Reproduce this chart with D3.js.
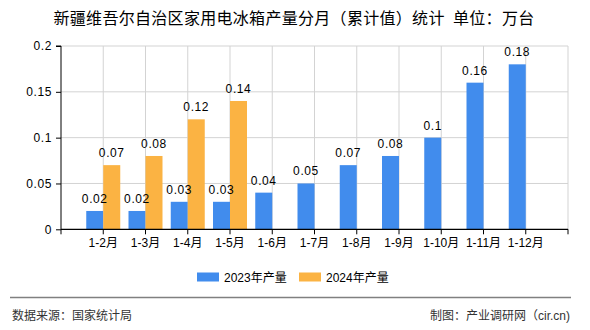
<!DOCTYPE html>
<html><head><meta charset="utf-8">
<script src="https://cdn.jsdelivr.net/npm/d3@7"></script>
<style>
body{margin:0;background:#fff;}
svg{display:block;font-family:"Liberation Sans",Arial,"Noto Sans CJK SC",sans-serif;}
</style></head>
<body><svg id="c" width="590" height="330"></svg>
<script>
const categories = ["1-2月","1-3月","1-4月","1-5月","1-6月","1-7月","1-8月","1-9月","1-10月","1-11月","1-12月"];
const values2023 = [0.02,0.02,0.03,0.03,0.04,0.05,0.07,0.08,0.1,0.16,0.18];
const values2024 = [0.07,0.08,0.12,0.14,null,null,null,null,null,null,null];
const yTicks = [0,0.05,0.1,0.15,0.2];
const seriesNames = ["2023年产量","2024年产量"];
const colors = ["#418ced","#fbb343"];

const svg = d3.select("#c");
const L=61, R=568, T=46, B=229.3;
const x = d3.scalePoint().domain(categories).range([L,R]).padding(1);
const y = d3.scaleLinear().domain([0,0.2]).range([B,T]);
const bw = 17;

// title
svg.append("text").attr("x",294).attr("y",24).attr("text-anchor","middle")
  .attr("font-size",16).attr("letter-spacing","0.3px").attr("font-family","'Noto Sans CJK SC',sans-serif").attr("fill","#000")
  .text("新疆维吾尔自治区家用电冰箱产量分月（累计值）统计\u2002单位：万台");

// grid
const g = svg.append("g");
yTicks.filter(d=>d>0).forEach(t=>{
  g.append("line").attr("x1",L).attr("x2",R).attr("y1",y(t)).attr("y2",y(t)).attr("stroke","#d3d3d3");
});
categories.map(c=>x(c)).concat([R]).forEach(v=>{
  g.append("line").attr("x1",v).attr("x2",v).attr("y1",T).attr("y2",B).attr("stroke","#d3d3d3");
});

// bars
const bars = svg.append("g");
const labels = svg.append("g");
categories.forEach((c,i)=>{
  const cx = x(c);
  [values2023[i], values2024[i]].forEach((v,s)=>{
    if(v==null) return;
    const bx = s===0 ? cx-bw : cx;
    bars.append("rect").attr("x",bx).attr("y",y(v)).attr("width",bw).attr("height",B-y(v)).attr("fill",colors[s]);
    labels.append("text").attr("x",bx+bw/2).attr("y",y(v)-8).attr("text-anchor","middle")
      .attr("font-size",12).attr("letter-spacing","0.6px").attr("fill","#000").text(String(v));
  });
});

// y axis
const yAxis = d3.axisLeft(y).tickValues(yTicks).tickSize(5).tickFormat(d=>String(d));
const ya = svg.append("g").attr("transform",`translate(${L},0)`).call(yAxis);
ya.select(".domain").attr("stroke","#000").attr("d",`M-5,${T}H0V${B}`);
ya.selectAll(".tick line").attr("stroke","#000");
ya.selectAll(".tick text").attr("font-size",12).attr("fill","#000").attr("x",-9)
  .attr("letter-spacing","0.6px").attr("font-family","'Liberation Sans',Arial,sans-serif");

// x axis
const xl = d3.scaleLinear().domain([0,categories.length+1]).range([L,R]);
const xa = svg.append("g").attr("transform",`translate(0,${B})`);
xa.append("line").attr("x1",L).attr("x2",R).attr("stroke","#000").attr("stroke-width",1.2);
d3.range(0,categories.length+2).forEach(k=>{
  xa.append("line").attr("x1",xl(k)).attr("x2",xl(k)).attr("y1",0).attr("y2",5).attr("stroke","#000");
});
categories.forEach(c=>{
  xa.append("text").attr("x",x(c)).attr("y",18).attr("text-anchor","middle").attr("font-size",12).attr("fill","#000").text(c);
});

// legend
const lg = svg.append("g");
[[197,224],[299,326]].forEach((p,i)=>{
  lg.append("rect").attr("x",p[0]).attr("y",272.5).attr("width",22).attr("height",9).attr("fill",colors[i]);
  lg.append("text").attr("x",p[1]).attr("y",281.5).attr("font-size",12).attr("fill","#000").text(seriesNames[i]);
});

// footer
svg.append("line").attr("x1",10).attr("x2",571).attr("y1",297.5).attr("y2",297.5).attr("stroke","#808080").attr("stroke-width",1.5);
svg.append("text").attr("x",12).attr("y",320).attr("font-size",12).attr("fill","#333").text("数据来源：国家统计局");
svg.append("text").attr("x",570).attr("y",320).attr("text-anchor","end").attr("font-size",12).attr("fill","#333").text("制图：产业调研网（cir.cn)");
</script></body></html>
